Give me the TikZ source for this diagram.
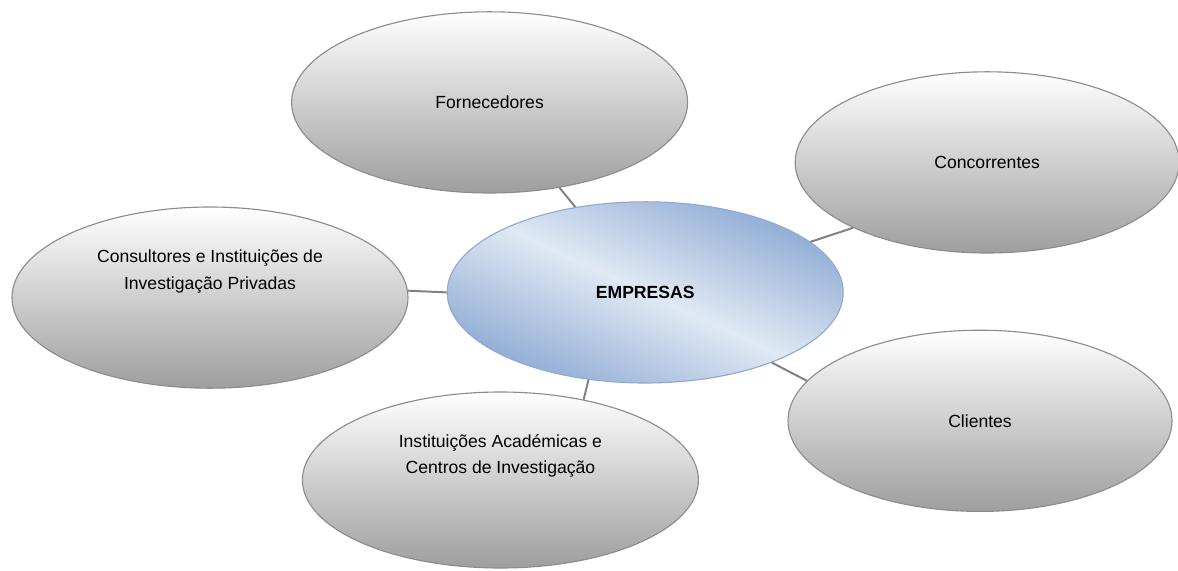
\documentclass[tikz,border=0pt]{standalone}
\usepackage{fontspec}
\setmainfont{Liberation Sans}
\usepackage{xcolor}
\usetikzlibrary{shapes.geometric}

\definecolor{empblue}{HTML}{8FABD4}
\definecolor{emplight}{HTML}{E0E9F4}
\definecolor{empline}{HTML}{8FAAD0}

\begin{document}
\begin{tikzpicture}[
    font=\fontsize{12.5}{19}\selectfont,
    actor/.style={ellipse, draw=black!45, line width=0.8pt, top color=white, bottom color=black!38,
      inner sep=0pt, minimum width=9.9cm, minimum height=4.53cm},
    core/.style={ellipse, draw=empline, line width=0.8pt, left color=empblue, right color=empblue,
      middle color=emplight, shading angle=-25, inner sep=0pt, minimum width=9.9cm, minimum height=4.53cm,
      font=\fontsize{12.5}{19}\selectfont\bfseries},
    link/.style={draw=black!50, line width=1.4pt}
  ]
          \useasboundingbox (0,0) rectangle (29.45,14.25);

          \node[actor] (forn) at (12.24,11.69) {Fornecedores};
          \node[actor, minimum width=9.6cm] (conc) at (24.68,10.19) {Concorrentes};
          \node[actor, label={[yshift=0.65cm, align=center]center:Consultores e Instituições de\\Investigação Privadas}] (cons) at (5.25,6.81) {};
          \node[core] (emp) at (16.13,6.94) {EMPRESAS};
          \node[actor, minimum height=4.4cm, label={[yshift=0.6cm, align=center]center:Instituições Académicas e\\Centros de Investigação}] (inst) at (12.51,2.25) {};
          \node[actor, minimum width=9.6cm] (cli) at (24.5,3.73) {Clientes};

          \draw[link] (forn) -- (emp);
          \draw[link] (emp.17) -- (conc.206);
          \draw[link] (cons.2) -- (emp.west);
          \draw[link] (emp.237) -- (inst.44);
          \draw[link] (emp.-29) -- (cli.167);
        \end{tikzpicture}
\end{document}
